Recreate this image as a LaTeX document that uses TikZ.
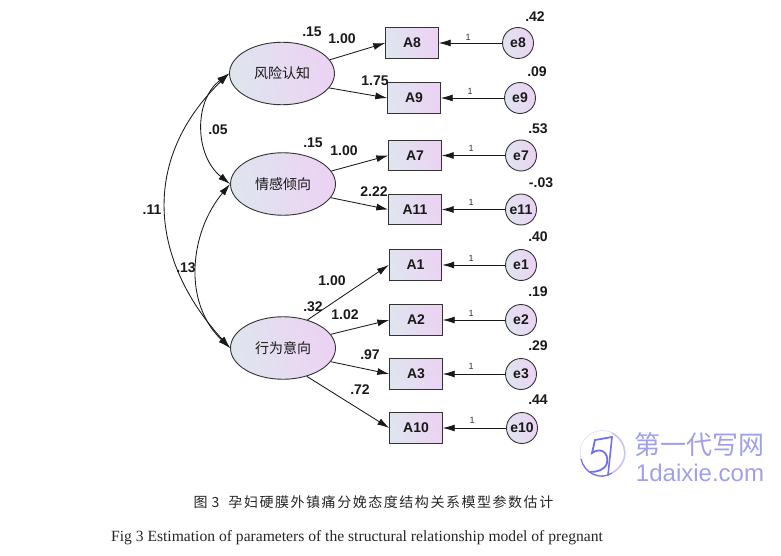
\documentclass[tikz,border=0pt]{standalone}
\usepackage{fontspec}
\setmainfont{Liberation Serif}
\newfontfamily\lab{Liberation Sans}
\newfontfamily\cjk{Noto Sans CJK SC}
\newfontfamily\cjkcap[LetterSpace=11]{Noto Sans CJK SC}
\usetikzlibrary{shapes.geometric,arrows.meta}
\definecolor{edge}{HTML}{333333}
\definecolor{gradL}{HTML}{DFE5EF}
\definecolor{gradR}{HTML}{ECD2F3}
\definecolor{wm}{HTML}{A0A0EA}
\tikzset{
  x=1pt,y=-1pt,
  fillgrad/.style={left color=gradL,right color=gradR,shading angle=105,draw=edge,line width=0.9pt},
  latent/.style={ellipse,fillgrad,minimum width=105pt,minimum height=62.5pt,inner sep=0pt,font=\cjk\fontsize{14}{15}\selectfont,text=black!90},
  obs/.style={rectangle,fillgrad,minimum width=52.5pt,minimum height=30.5pt,inner sep=0pt,font=\lab\bfseries\fontsize{14}{15}\selectfont,text=black!90},
  err/.style={circle,fillgrad,minimum size=31pt,inner sep=0pt,font=\lab\bfseries\fontsize{14}{15}\selectfont,text=black!90},
  val/.style={inner sep=0pt,font=\lab\bfseries\fontsize{14}{15}\selectfont,text=black!90},
  unit/.style={inner sep=0pt,font=\lab\fontsize{9}{10}\selectfont,text=black!80},
  path1/.style={draw=black!90,line width=0.85pt,-{Latex[length=12pt,width=7pt]}},
  cov/.style={draw=black!90,line width=0.85pt,{Latex[length=12pt,width=7pt]}-{Latex[length=12pt,width=7pt]}},
  capt/.style={inner sep=0pt,text=black!85},
  wmark/.style={inner sep=0pt,text=wm}
}
\begin{document}
\begin{tikzpicture}
\useasboundingbox (0,0) rectangle (781,556);
\node[latent] (F1) at (282,73.5) {风险认知};
\node[latent] (F2) at (283,184) {情感倾向};
\node[latent] (F3) at (283,348) {行为意向};
\foreach \n/\x/\y in {A8/412/43,A9/414/98,A7/415/155.5,A11/415/209.5,A1/415.5/265,A2/416/320,A3/416/374,A10/416/428}
  \node[obs] (\n) at (\x,\y) {\n};
\foreach \n/\x/\y in {e8/518/43,e9/520/98,e7/521/155.5,e11/521/209.5,e1/521/265,e2/521/320,e3/521/374,e10/522/428}
  \node[err] (\n) at (\x,\y) {\n};
\draw[path1] (F1.16) -- (A8.west);
\draw[path1] (F1.-17) -- (A9.west);
\draw[path1] (F2.15) -- (A7.west);
\draw[path1] (F2.-16) -- (A11.west);
\draw[path1] (F3.49) -- (A1.west);
\draw[path1] (F3.16) -- (A2.west);
\draw[path1] (F3.-16) -- (A3.west);
\draw[path1] (F3.-50) -- (A10.west);
\foreach \e/\a in {e8/A8,e9/A9,e7/A7,e11/A11,e1/A1,e2/A2,e3/A3,e10/A10}
  \draw[path1] (\e.west) -- (\a.east);
\draw[cov] (F1.west) .. controls (194,100) and (194,155) .. (F2.west);
\draw[cov] (F1.west) .. controls (140,160) and (150,260) .. (F3.west);
\draw[cov] (F2.west) .. controls (190,232) and (182,302) .. (F3.west);
\foreach \t/\x/\y/\k in {.15/312/32/a,1.00/342/39/b,1.75/375/81/c,.05/218/130/d,.15/313/143/e,1.00/344/151/f,2.22/374/192/g,.11/152/210/h,.13/186/268/i,1.00/332/281/j,.32/313/307/k,1.02/345/315/l,.97/370/355/m,.72/360/390/n,.42/535/17/o,.09/537/72/p,.53/538/129/q,-.03/541/183/r,.40/538/237/s,.19/538/292/t,.29/538/346/u,.44/538/400/v}
  \node[val] (v\k) at (\x,\y) {\t};
\foreach \x/\y/\k in {468/37/a,470/91/b,471/148/c,471/202/d,471/258/e,471/313/f,471/366/g,472/420/h}
  \node[unit] (u\k) at (\x,\y) {1};
\node[capt,font=\cjkcap\fontsize{14}{16}\selectfont] (c1) at (373.5,502.5) {图\hspace{4pt}3\hspace{9pt}孕妇硬膜外镇痛分娩态度结构关系模型参数估计};
\node[capt,font=\fontsize{15.6}{17}\selectfont] (c2) at (357,537.5) {Fig 3 Estimation of parameters of the structural relationship model of pregnant};
% watermark
\draw[wm!45,line width=0.5pt] (602.5,453) circle (22.5);
\draw[wm!70!blue,line width=1.3pt] (581,459) .. controls (584,473) and (600,481) .. (612,473);
\draw[wm!60,line width=1.6pt] (612,433) .. controls (628,442) and (630,462) .. (612,473);
\draw[wm!70!blue,line width=1.8pt,line cap=round] (612,437) -- (595,440) -- (592,453) .. controls (600,447) and (609,452) .. (607,463) .. controls (605,470) and (597,472) .. (590,472);
\draw[wm!70!blue,line width=1.6pt,line cap=round] (612,437) -- (608,475);
\node[wmark,font=\cjk\fontsize{26}{28}\selectfont] (w1) at (699,445) {第一代写网};
\node[wmark,font=\lab\fontsize{24}{26}\selectfont] (w2) at (700,472.5) {1daixie.com};
\end{tikzpicture}
\end{document}
